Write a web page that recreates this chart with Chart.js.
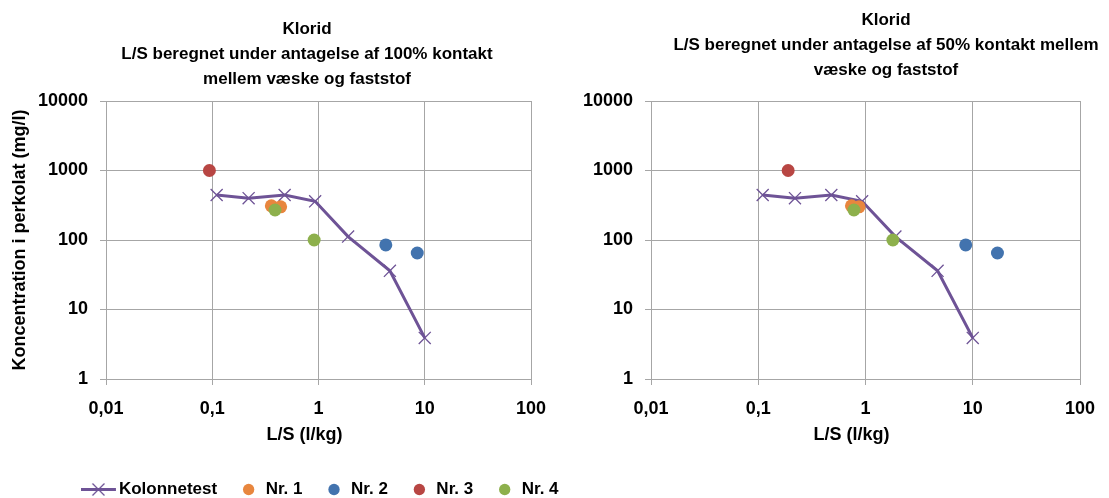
<!DOCTYPE html>
<html>
<head>
<meta charset="utf-8">
<script src="https://cdn.jsdelivr.net/npm/chart.js@4.4.1/dist/chart.umd.min.js"></script>
<style>
  html, body { margin: 0; padding: 0; background: #fff; overflow: hidden; }
  .boks { position: absolute; top: 0; height: 508px; }
  #boks100 { left: 0; width: 652px; }
  #boks50 { left: 560px; width: 549px; }
</style>
</head>
<body>
<div class="boks" id="boks100"><canvas id="chartKlorid100"></canvas></div>
<div class="boks" id="boks50"><canvas id="chartKlorid50"></canvas></div>
<script>
// akser (log-log)
const xTicks = [0.01, 0.1, 1, 10, 100];
const xTickLabels = ['0,01', '0,1', '1', '10', '100'];
const yTicks = [1, 10, 100, 1000, 10000];
const yTickLabels = ['1', '10', '100', '1000', '10000'];

// kolonnetest - samme i begge grafer
const kolonneLS = [0.11, 0.22, 0.48, 0.93, 1.9, 4.7, 10];
const kolonneKonc = [445, 400, 445, 360, 112, 36, 3.9];

// felt-prøver, L/S ved 100% kontakt
const nr1LS100 = [0.36, 0.44];
const nr1Konc = [310, 300];
const nr2LS100 = [4.3, 8.5];
const nr2Konc = [85, 65];
const nr3LS100 = [0.094];
const nr3Konc = [1000];
const nr4LS100 = [0.39, 0.91];
const nr4Konc = [270, 100];

// felt-prøver, L/S ved 50% kontakt
const nr1LS50 = [0.74, 0.87];
const nr2LS50 = [8.6, 17];
const nr3LS50 = [0.19];
const nr4LS50 = [0.78, 1.8];

const LILLA = '#6e5396';
const ORANGE = '#e8863e';
const BLAA = '#4273ae';
const ROED = '#b84643';
const GROEN = '#8db04c';
const GITTER = '#a6a6a6';
const FONT = '"Liberation Sans", Arial, sans-serif';

Chart.defaults.font = { family: FONT, size: 17, weight: 'bold' };
Chart.defaults.color = '#000';

const punkter = (xs, ys) => xs.map((x, i) => ({ x, y: ys[i] }));

// legend-symbol for kolonnetest: linje med kryds
const kolonneSymbol = document.createElement('canvas');
kolonneSymbol.width = 42;
kolonneSymbol.height = 17;
const sctx = kolonneSymbol.getContext('2d');
sctx.strokeStyle = LILLA;
sctx.lineWidth = 3;
sctx.beginPath(); sctx.moveTo(0, 8.5); sctx.lineTo(35, 8.5); sctx.stroke();
sctx.lineWidth = 1.3;
sctx.beginPath();
sctx.moveTo(11.5, 2.5); sctx.lineTo(23.5, 14.5);
sctx.moveTo(23.5, 2.5); sctx.lineTo(11.5, 14.5);
sctx.stroke();

// titel i flere linjer + x-aksetitel, placeret frit
function tekstPlugin(linjer, x, y, afstand) {
  return {
    id: 'titelTekst',
    afterDraw(chart) {
      const { ctx, chartArea } = chart;
      ctx.save();
      ctx.fillStyle = '#000';
      ctx.textAlign = 'center';
      ctx.textBaseline = 'middle';
      ctx.font = 'bold 17px ' + FONT;
      linjer.forEach((linje, i) => ctx.fillText(linje, x, y + i * afstand));
      ctx.font = 'bold 18px ' + FONT;
      ctx.fillText('L/S (l/kg)', (chartArea.left + chartArea.right) / 2 - 14, 435);
      ctx.restore();
    },
  };
}

function lagKloridGraf(id, ls, opt) {
  const ctx = document.getElementById(id);
  return new Chart(ctx, {
    type: 'scatter',
    data: {
      datasets: [
        {
          label: 'Kolonnetest',
          data: punkter(kolonneLS, kolonneKonc),
          showLine: true,
          borderColor: LILLA,
          backgroundColor: LILLA,
          borderWidth: 3,
          pointStyle: 'crossRot',
          pointRadius: 8.5,
          pointBorderWidth: 1.3,
          order: 5,
        },
        { label: 'Nr. 1', data: punkter(ls.nr1, nr1Konc), backgroundColor: ORANGE, borderColor: ORANGE, pointRadius: 6.5, pointBorderWidth: 0, order: 4 },
        { label: 'Nr. 2', data: punkter(ls.nr2, nr2Konc), backgroundColor: BLAA, borderColor: BLAA, pointRadius: 6.5, pointBorderWidth: 0, order: 3 },
        { label: 'Nr. 3', data: punkter(ls.nr3, nr3Konc), backgroundColor: ROED, borderColor: ROED, pointRadius: 6.5, pointBorderWidth: 0, order: 2 },
        { label: 'Nr. 4', data: punkter(ls.nr4, nr4Konc), backgroundColor: GROEN, borderColor: GROEN, pointRadius: 6.5, pointBorderWidth: 0, order: 1 },
      ],
    },
    options: {
      responsive: true,
      maintainAspectRatio: false,
      animation: false,
      events: [],
      layout: { padding: { top: 101, right: 0, bottom: opt.visLegend ? 0 : 38, left: 0 } },
      plugins: {
        tooltip: { enabled: false },
        legend: {
          display: opt.visLegend,
          position: 'bottom',
          labels: {
            usePointStyle: true,
            boxWidth: 17,
            boxHeight: 8,
            padding: 23,
            color: '#000',
            sort: (a, b) => a.datasetIndex - b.datasetIndex,
            generateLabels(chart) {
              const items = Chart.defaults.plugins.legend.labels.generateLabels(chart);
              items.forEach((item) => {
                if (item.datasetIndex === 0) item.pointStyle = kolonneSymbol;
              });
              return items;
            },
          },
        },
      },
      scales: {
        x: {
          type: 'logarithmic',
          min: 0.01,
          max: 100,
          afterBuildTicks: (scale) => { scale.ticks = xTicks.map((v) => ({ value: v })); },
          afterFit: (scale) => { scale.height = opt.xHoejde; },
          ticks: {
            padding: 13,
            maxRotation: 0,
            font: { size: 18 },
            callback: (v, i) => xTickLabels[i],
          },
          grid: { color: GITTER, tickLength: 6 },
          border: { color: GITTER },
        },
        y: {
          type: 'logarithmic',
          min: 1,
          max: 10000,
          afterBuildTicks: (scale) => { scale.ticks = yTicks.map((v) => ({ value: v })); },
          afterFit: (scale) => { scale.width = opt.yBredde; },
          ticks: {
            padding: 12,
            font: { size: 18 },
            callback: (v, i) => yTickLabels[i],
          },
          grid: { color: GITTER, tickLength: 6 },
          border: { color: GITTER },
          title: { display: opt.visYTitel, text: 'Koncentration i perkolat (mg/l)', font: { size: 18 }, padding: { top: 9, bottom: 4 } },
        },
        // tom højreakse, holder plotområdets højre kant på plads
        yPlads: {
          position: 'right',
          display: true,
          afterFit: (scale) => { scale.width = opt.hoejreBredde; },
          ticks: { display: false },
          grid: { display: false, drawTicks: false },
          border: { display: false },
        },
      },
    },
    plugins: [tekstPlugin(opt.titel, opt.titelX, opt.titelY, 25)],
  });
}

lagKloridGraf('chartKlorid100', { nr1: nr1LS100, nr2: nr2LS100, nr3: nr3LS100, nr4: nr4LS100 }, {
  titel: ['Klorid', 'L/S beregnet under antagelse af 100% kontakt', 'mellem væske og faststof'],
  titelX: 307,
  titelY: 29,
  visLegend: true,
  visYTitel: true,
  yBredde: 106,
  hoejreBredde: 121,
  xHoejde: 79,
});

lagKloridGraf('chartKlorid50', { nr1: nr1LS50, nr2: nr2LS50, nr3: nr3LS50, nr4: nr4LS50 }, {
  titel: ['Klorid', 'L/S beregnet under antagelse af 50% kontakt mellem', 'væske og faststof'],
  titelX: 326,
  titelY: 20,
  visLegend: false,
  visYTitel: false,
  yBredde: 91,
  hoejreBredde: 29,
  xHoejde: 91,
});
</script>
</body>
</html>
